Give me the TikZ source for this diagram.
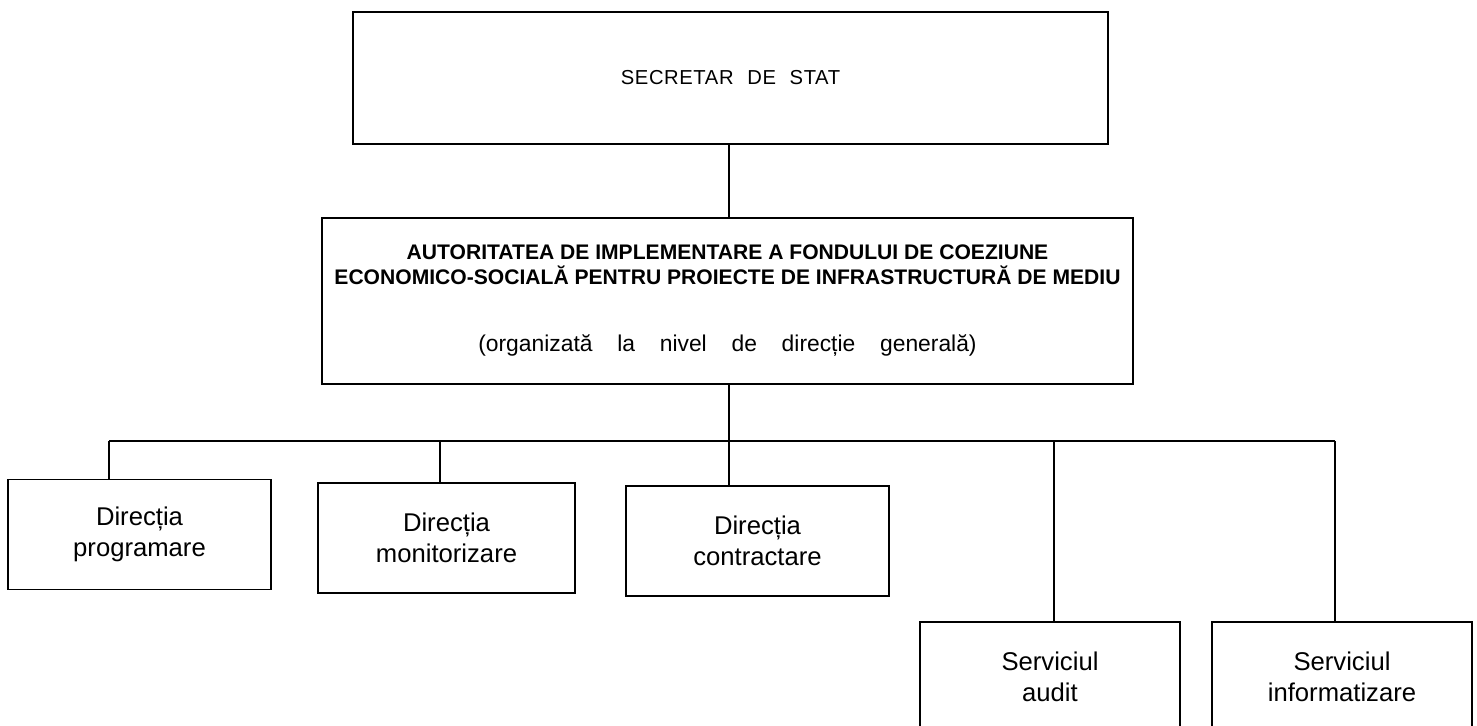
\documentclass[tikz,border=0pt]{standalone}
\usepackage{fontspec}
\setmainfont{Liberation Sans}
\newfontfamily\secfont[LetterSpace=3,WordSpace=2.2]{Liberation Sans}
\newfontfamily\subfont[WordSpace=3.9]{Liberation Sans}

\begin{document}
\begin{tikzpicture}[x=0.2mm,y=-0.2mm,
    box/.style={draw, line width=1pt, inner sep=0pt, align=center},
    unit/.style={box, minimum height=22mm, font=\fontsize{14.6}{17.6}\selectfont},
    link/.style={line width=0.8pt}]
    % Page frame:
    \useasboundingbox (0,0) rectangle (1477,726);

    % Upper levels:
    \node[box, minimum width=151mm, minimum height=26.4mm, font=\secfont\fontsize{11.5}{13}\selectfont] (sec) at (730.5,78)
        {SECRETAR DE STAT};
    \node[box, minimum width=162.2mm, minimum height=33.2mm, font=\fontsize{12}{14.2}\selectfont\bfseries] (aut) at (727.5,301)
        {AUTORITATEA DE IMPLEMENTARE A FONDULUI DE COEZIUNE\\
         ECONOMICO-SOCIALĂ PENTRU PROIECTE DE INFRASTRUCTURĂ DE MEDIU\\[24pt]
         \subfont\mdseries\fontsize{13}{14.2}\selectfont (organizată la nivel de direcție generală)};

    % Directions and services:
    \node[unit, minimum width=52.6mm] (prog) at (139.5,534.5) {Direcția\\programare};
    \node[unit, minimum width=51.4mm] (mon) at (446.5,538) {Direcția\\monitorizare};
    \node[unit, minimum width=52.6mm] (contr) at (757.5,541) {Direcția\\contractare};
    \node[unit, minimum width=52mm] (audit) at (1050,677) {Serviciul\\audit};
    \node[unit, minimum width=52mm] (info) at (1342,677) {Serviciul\\informatizare};

    % Connectors:
    \foreach \x/\n in {109/prog,440/mon,729/contr,1054/audit,1335/info}{
        \coordinate (j\n) at (\x,441);
        \draw[link] (j\n) -- (\n.north -| j\n);
    }
    \draw[link] (sec.south -| jcontr) -- (aut.north -| jcontr);
    \draw[link] (aut.south -| jcontr) -- (jcontr);
    \draw[link] (jprog) -- (jinfo);
\end{tikzpicture}
\end{document}
